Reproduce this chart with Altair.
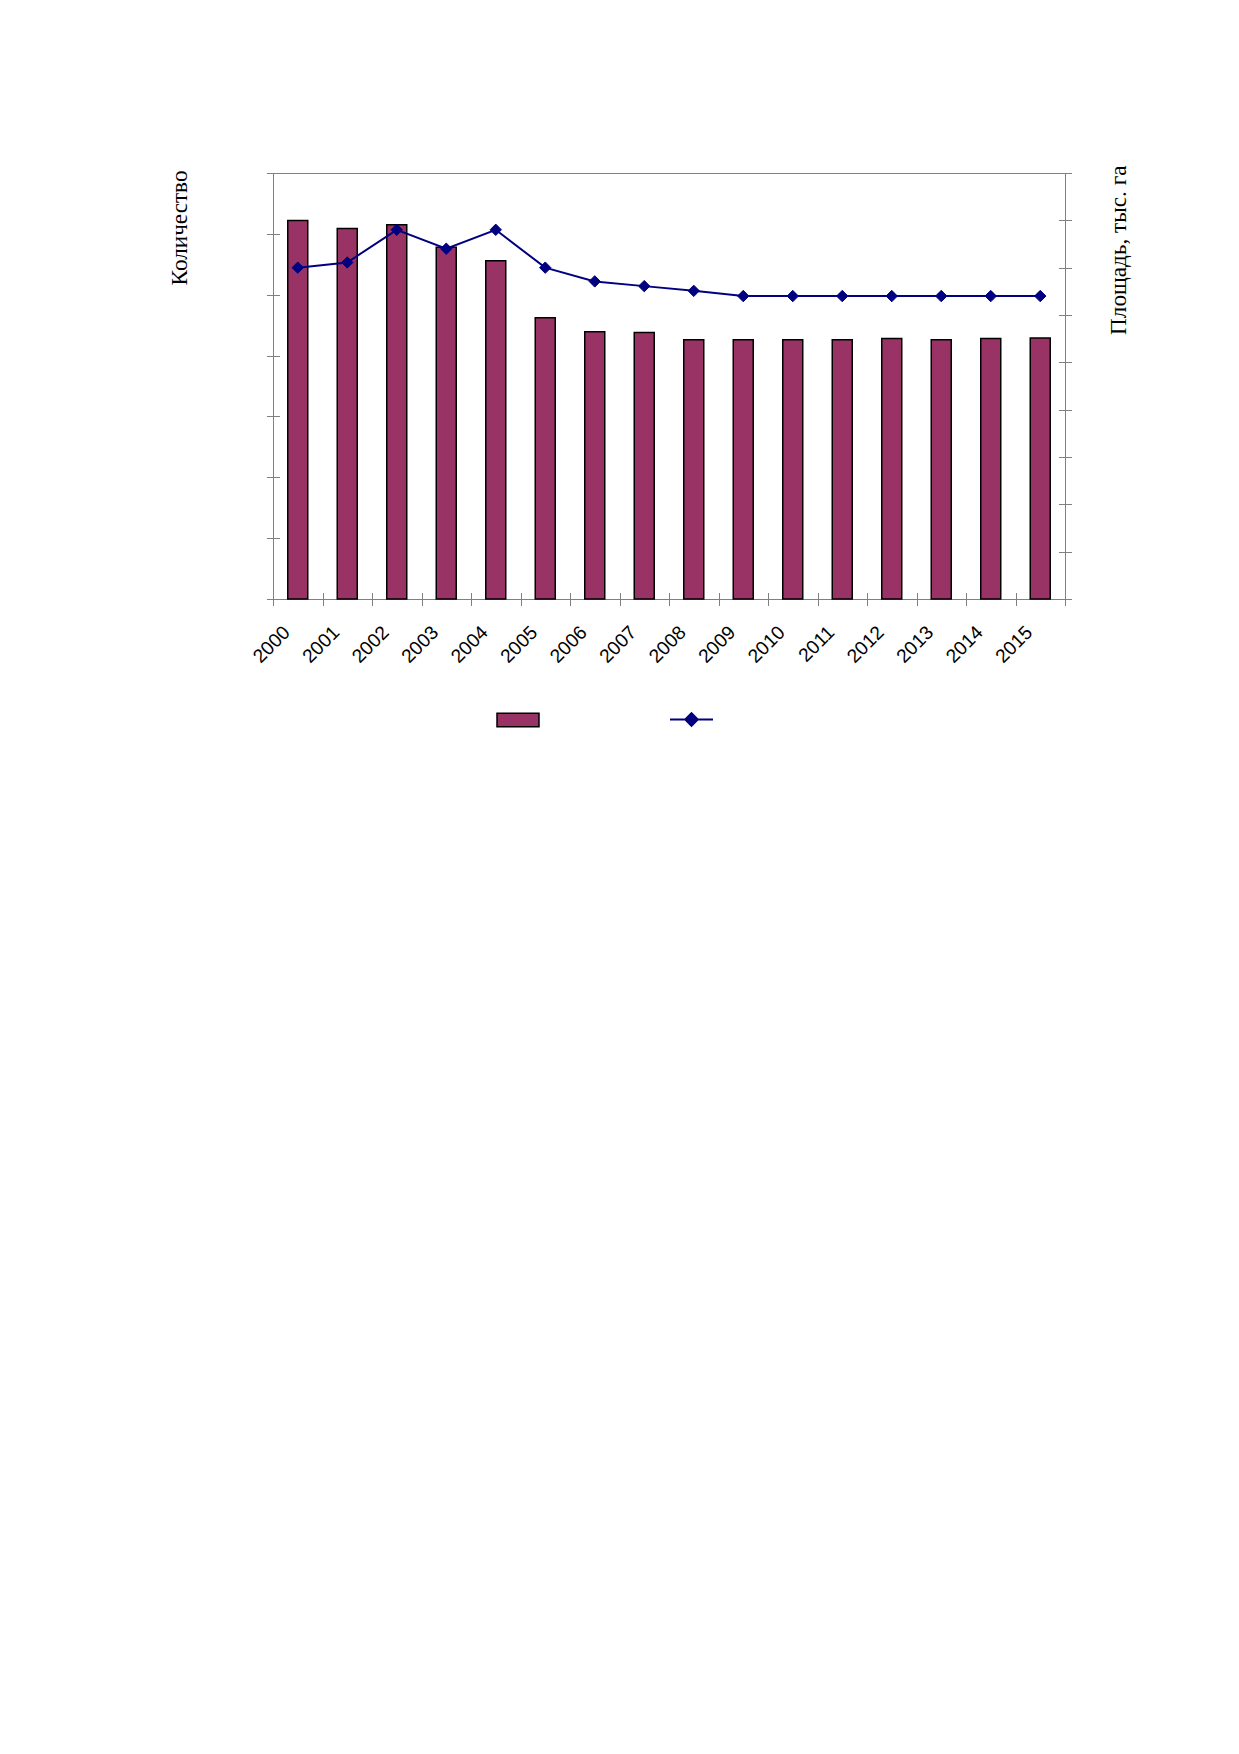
import altair as alt
import pandas as pd

# ---- data ----
years = ["2000", "2001", "2002", "2003", "2004", "2005", "2006", "2007",
         "2008", "2009", "2010", "2011", "2012", "2013", "2014", "2015"]
count_values = [622, 609, 615, 578, 556, 462, 439, 438,
                426, 426, 426, 426, 428, 426, 428, 429]
area_values = [70.0, 71.1, 78.0, 74.0, 78.0, 70.0, 67.1, 66.1,
               65.1, 64.0, 64.0, 64.0, 64.0, 64.0, 64.0, 64.0]
left_ticks = [0, 100, 200, 300, 400, 500, 600, 700]
right_ticks = [0, 10, 20, 30, 40, 50, 60, 70, 80, 90]
bar_series = "Количество"
line_series = "Площадь, тыс. га"

BAR = "#993366"
NAVY = "#000080"
TICK = "#808080"

df = pd.DataFrame({
    "year": years,
    "count": count_values,
    "area": area_values,
    "s_bar": [bar_series] * len(years),
    "s_line": [line_series] * len(years),
})

x_axis = alt.Axis(
    orient="bottom", offset=-6.5, tickSize=13, tickColor=TICK, tickWidth=1,
    tickBand="extent", domain=False, grid=False,
    labelAngle=315, labelAlign="right", labelBaseline="middle",
    labelOffset=-11.5, labelPadding=23.5, labelFont="Liberation Sans",
    labelFontSize=19.2, labelColor="black", labelOverlap=False, labelBound=False,
    title=None,
)
x_enc = alt.X("year:N", sort=years,
              scale=alt.Scale(paddingInner=0, paddingOuter=0), axis=x_axis)

left_axis = alt.Axis(
    orient="left", offset=-6.5, tickSize=13, tickColor=TICK, tickWidth=1,
    values=left_ticks, domain=False, grid=False, labels=False,
    title=bar_series, titleFont="Liberation Serif", titleFontSize=23.2,
    titleFontWeight="normal", titleColor="black", titleAngle=270,
    titleAlign="right", titleBaseline="middle", titleX=-100.5, titleY=-3,
)
right_axis = alt.Axis(
    orient="right", offset=-6.5, tickSize=13, tickColor=TICK, tickWidth=1,
    values=right_ticks, domain=False, grid=False, labels=False,
    title=line_series, titleFont="Liberation Serif", titleFontSize=23.2,
    titleFontWeight="normal", titleColor="black", titleAngle=270,
    titleAlign="right", titleBaseline="middle", titleX=60, titleY=-8,
)

bars = alt.Chart(df).mark_bar(
    width=alt.RelativeBandSize(0.404), stroke="black", strokeWidth=1.5
).encode(
    x=x_enc,
    y=alt.Y("count:Q", scale=alt.Scale(domain=[0, 700], nice=False), axis=left_axis),
    fill=alt.Fill("s_bar:N", scale=alt.Scale(range=[BAR]), legend=alt.Legend(
        orient="none", legendX=223, legendY=525, title=None, padding=0,
        symbolType="M-1,-0.32H1V0.32H-1Z", symbolSize=1764,
        symbolStrokeColor="black", symbolStrokeWidth=1.5, symbolOpacity=1,
        labelExpr="''",
    )),
)

line = alt.Chart(df).mark_line(
    strokeWidth=2,
    point=alt.OverlayMarkDef(shape="diamond", filled=True, size=130,
                             fill=NAVY, stroke=NAVY, strokeWidth=1, opacity=1),
).encode(
    x=x_enc,
    y=alt.Y("area:Q", scale=alt.Scale(domain=[0, 90], nice=False), axis=right_axis),
    stroke=alt.Stroke("s_line:N", scale=alt.Scale(range=[NAVY]), legend=alt.Legend(
        orient="none", legendX=396, legendY=524, title=None, padding=0,
        symbolType="M-1,0H1M-0.29,0L0,-0.29L0.29,0L0,0.29Z", symbolSize=1849,
        symbolStrokeWidth=2, symbolFillColor=NAVY, symbolStrokeColor=NAVY,
        symbolOpacity=1, labelExpr="''",
    )),
)

chart = alt.layer(bars, line).resolve_scale(
    y="independent", fill="independent", stroke="independent"
).properties(
    width=792, height=426,
    padding={"left": 265, "top": 165, "right": 166, "bottom": 300},
    autosize=alt.AutoSizeParams(type="none"),
    background="white",
).configure_view(stroke=TICK, strokeWidth=1)

chart.save("out.html", embed_options={"renderer": "svg", "actions": False})
